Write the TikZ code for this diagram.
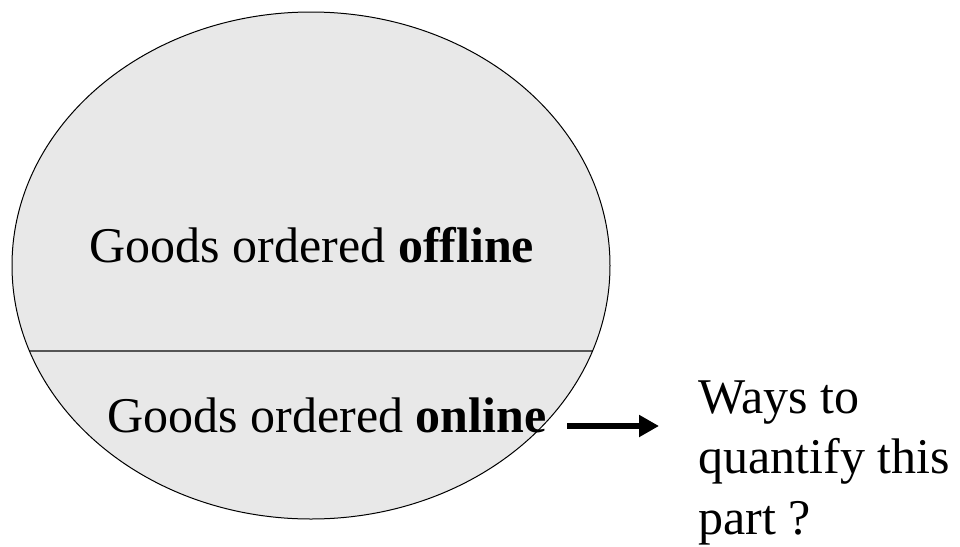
\documentclass[tikz,border=0pt]{standalone}
\usepackage{fontspec}
\setmainfont{Liberation Serif}
\usetikzlibrary{arrows.meta,positioning,shapes.geometric}
\definecolor{bowlfill}{HTML}{E8E8E8}
\definecolor{chord}{HTML}{555555}

\begin{document}
\begin{tikzpicture}[x=0.5pt,y=-0.5pt,
    label/.style={font=\fontsize{25}{30.25}\selectfont,inner sep=0pt},
    bowl/.style={draw,ellipse,fill=bowlfill,line width=0.5pt,
      minimum width=299pt,minimum height=253.5pt,inner sep=0pt},
    pointer/.style={line width=2.7pt,-{Triangle[length=10pt,width=10.5pt]}}]
  \useasboundingbox (0,0) rectangle (960,547);
  % the whole, split into two parts
  \node[bowl,path picture={
      \draw[chord,line width=0.75pt]
        ([yshift=-42.75pt]path picture bounding box.west) --
        ([yshift=-42.75pt]path picture bounding box.east);}] (goods) at (311,265.5) {};
  \node[label,anchor=base] (offline) at (312,262) {Goods ordered \textbf{offline}};
  \node[label,anchor=base] (online) at (327,432) {Goods ordered \textbf{online}};

  % question on the right
  \node[label,anchor=base west,align=left] (ways) at (698,534)
    {Ways to\\quantify this\\part ?};
  \coordinate (tail) at (567,426);
  \coordinate (tip) at (659,426);
  \draw[pointer] (tail) -- (tip);
\end{tikzpicture}
\end{document}
